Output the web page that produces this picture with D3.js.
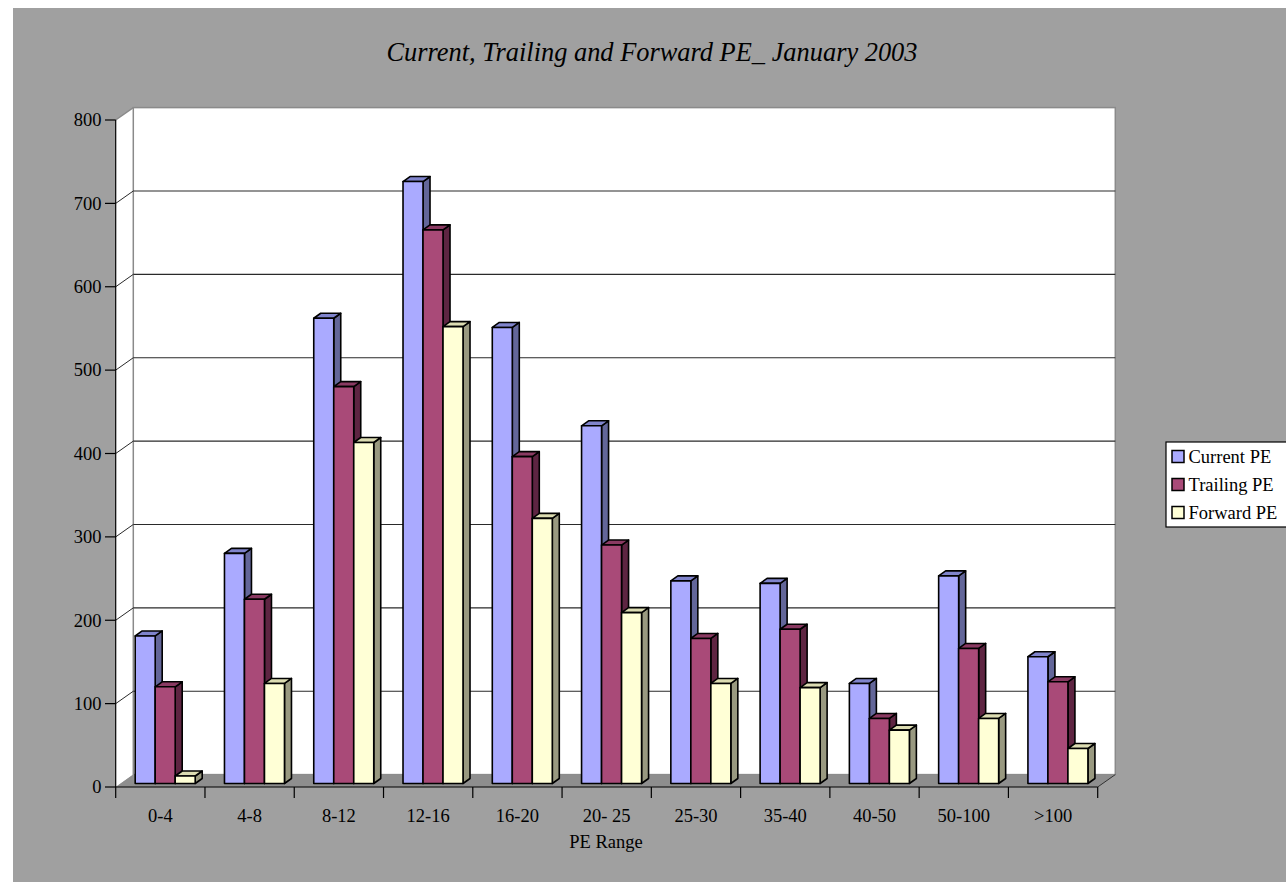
<!DOCTYPE html>
<html>
<head>
<meta charset="utf-8">
<script src="https://cdn.jsdelivr.net/npm/d3@7"></script>
<style>
  html, body { margin: 0; padding: 0; background: #ffffff; }
  svg { display: block; }
  text { font-family: "Liberation Serif", "Times New Roman", serif; fill: #000; }
</style>
</head>
<body>
<svg id="chart" width="1286" height="882"></svg>
<script>
const categories = ["0-4", "4-8", "8-12", "12-16", "16-20", "20- 25", "25-30", "35-40", "40-50", "50-100", ">100"];
const seriesNames = ["Current PE", "Trailing PE", "Forward PE"];
const currentPE  = [177, 276, 558, 722, 547, 429, 243, 240, 120, 249, 152];
const trailingPE = [116, 221, 476, 664, 392, 286, 174, 185, 78, 162, 122];
const forwardPE  = [9, 120, 409, 548, 318, 205, 120, 115, 64, 78, 42];
const yTicks = [0, 100, 200, 300, 400, 500, 600, 700, 800];
const titleText = "Current, Trailing and Forward PE_ January 2003";
const xTitle = "PE Range";

const seriesValues = [currentPE, trailingPE, forwardPE];
const colors = [
  { front: "#aaaaff", top: "#8084cc", side: "#636699" },
  { front: "#a94a78", top: "#8a3a62", side: "#5e2542" },
  { front: "#ffffd6", top: "#dcdcb2", side: "#999980" }
];

const svg = d3.select("#chart");

// layout
const fx0 = 115.7, fx1 = 1097.7;      // front floor edge
const fyBase = 787, fyTop = 120;       // front axis
const DX = 17.6, DY = 12.4;            // wall depth
const bx0 = fx0 + DX, bx1 = fx1 + DX;

const x = d3.scaleBand().domain(categories).range([fx0, fx1]).padding(0);
const yFront = d3.scaleLinear().domain([0, 800]).range([fyBase, fyTop]);
const yBack = d3.scaleLinear().domain([0, 800]).range([fyBase - DY, fyTop - DY]);
const yBar = d3.scaleLinear().domain([0, 800]).range([783.5, 116.5]);

// background
svg.append("rect").attr("x", 13).attr("y", 8).attr("width", 1300).attr("height", 900).attr("fill", "#a0a0a0");

// title
svg.append("text").attr("x", 652).attr("y", 61).attr("text-anchor", "middle")
  .attr("font-size", 26.4).attr("font-style", "italic").text(titleText);

// side wall
svg.append("polygon")
  .attr("points", [[fx0, fyBase], [fx0, fyTop], [bx0, yBack(800)], [bx0, yBack(0)]].map(p => p.join(",")).join(" "))
  .attr("fill", "#ffffff");
svg.append("line").attr("x1", fx0).attr("y1", fyTop).attr("x2", bx0).attr("y2", yBack(800))
  .attr("stroke", "#8a8a8a").attr("stroke-width", 1.5);

// back wall
svg.append("rect").attr("x", bx0).attr("y", yBack(800)).attr("width", bx1 - bx0).attr("height", yBack(0) - yBack(800))
  .attr("fill", "#ffffff").attr("stroke", "#8a8a8a").attr("stroke-width", 1.5);

// gridlines
const grid = yTicks.filter(v => v > 0 && v < 800);
svg.append("g").selectAll("line.g").data(grid).join("line")
  .attr("x1", bx0).attr("x2", bx1).attr("y1", d => yBack(d)).attr("y2", d => yBack(d))
  .attr("stroke", "#2a2a2a").attr("stroke-width", 1.1);
svg.append("g").selectAll("line.s").data(grid).join("line")
  .attr("x1", fx0).attr("x2", bx0).attr("y1", d => yFront(d)).attr("y2", d => yBack(d))
  .attr("stroke", "#2a2a2a").attr("stroke-width", 1);

// floor
svg.append("polygon")
  .attr("points", [[fx0, fyBase], [fx1, fyBase], [bx1, yBack(0)], [bx0, yBack(0)]].map(p => p.join(",")).join(" "))
  .attr("fill", "#8e8e8e");
svg.append("line").attr("x1", fx1).attr("y1", fyBase).attr("x2", bx1).attr("y2", yBack(0))
  .attr("stroke", "#333").attr("stroke-width", 1);

// bars
const W = 20, dx = 7, dy = 5, base = yBar(0);
const gBars = svg.append("g");
const barData = [];
categories.forEach((c, i) => {
  seriesValues.forEach((vals, s) => {
    barData.push({ c, s, v: vals[i] });
  });
});
barData.forEach(d => {
  const x0 = x(d.c) + 19.5 + d.s * W;
  const yt = yBar(d.v);
  const col = colors[d.s];
  const g = gBars.append("g").attr("stroke", "#000").attr("stroke-width", 1.6).attr("stroke-linejoin", "round");
  g.append("polygon")
    .attr("points", [[x0 + W, yt], [x0 + W + dx, yt - dy], [x0 + W + dx, base - dy], [x0 + W, base]].map(p => p.join(",")).join(" "))
    .attr("fill", col.side);
  g.append("polygon")
    .attr("points", [[x0, yt], [x0 + dx, yt - dy], [x0 + W + dx, yt - dy], [x0 + W, yt]].map(p => p.join(",")).join(" "))
    .attr("fill", col.top);
  g.append("rect").attr("x", x0).attr("y", yt).attr("width", W).attr("height", base - yt)
    .attr("fill", col.front);
});

// y axis
svg.append("line").attr("x1", fx0).attr("x2", fx0).attr("y1", fyTop).attr("y2", fyBase).attr("stroke", "#000").attr("stroke-width", 1.2);
const yt = svg.append("g").selectAll("g").data(yTicks).join("g");
yt.append("line").attr("x1", 105).attr("x2", fx0).attr("y1", d => yFront(d)).attr("y2", d => yFront(d))
  .attr("stroke", "#000").attr("stroke-width", 1.2);
yt.append("text").attr("x", 101.5).attr("y", d => yFront(d)).attr("dy", "0.34em")
  .attr("text-anchor", "end").attr("font-size", 18.5).text(d => d);

// x axis
svg.append("line").attr("x1", fx0).attr("x2", fx1).attr("y1", fyBase).attr("y2", fyBase).attr("stroke", "#000").attr("stroke-width", 1.2);
const bounds = categories.map(c => x(c)).concat([fx1]);
svg.append("g").selectAll("line").data(bounds).join("line")
  .attr("x1", d => d).attr("x2", d => d).attr("y1", fyBase).attr("y2", 798)
  .attr("stroke", "#000").attr("stroke-width", 1.2);
svg.append("g").selectAll("text").data(categories).join("text")
  .attr("x", d => x(d) + x.bandwidth() / 2).attr("y", 821.5)
  .attr("text-anchor", "middle").attr("font-size", 18.5).text(d => d);
svg.append("text").attr("x", 606).attr("y", 848).attr("text-anchor", "middle")
  .attr("font-size", 18.5).text(xTitle);

// legend
const lg = svg.append("g");
lg.append("rect").attr("x", 1166).attr("y", 442).attr("width", 125).attr("height", 85)
  .attr("fill", "#ffffff").attr("stroke", "#000").attr("stroke-width", 1.2);
seriesNames.forEach((n, i) => {
  const cy = 456.5 + i * 28;
  lg.append("rect").attr("x", 1172).attr("y", cy - 6).attr("width", 12).attr("height", 12)
    .attr("fill", colors[i].front).attr("stroke", "#000").attr("stroke-width", 1.5);
  lg.append("text").attr("x", 1188.5).attr("y", cy + 6).attr("font-size", 18.5).text(n);
});
</script>
</body>
</html>
